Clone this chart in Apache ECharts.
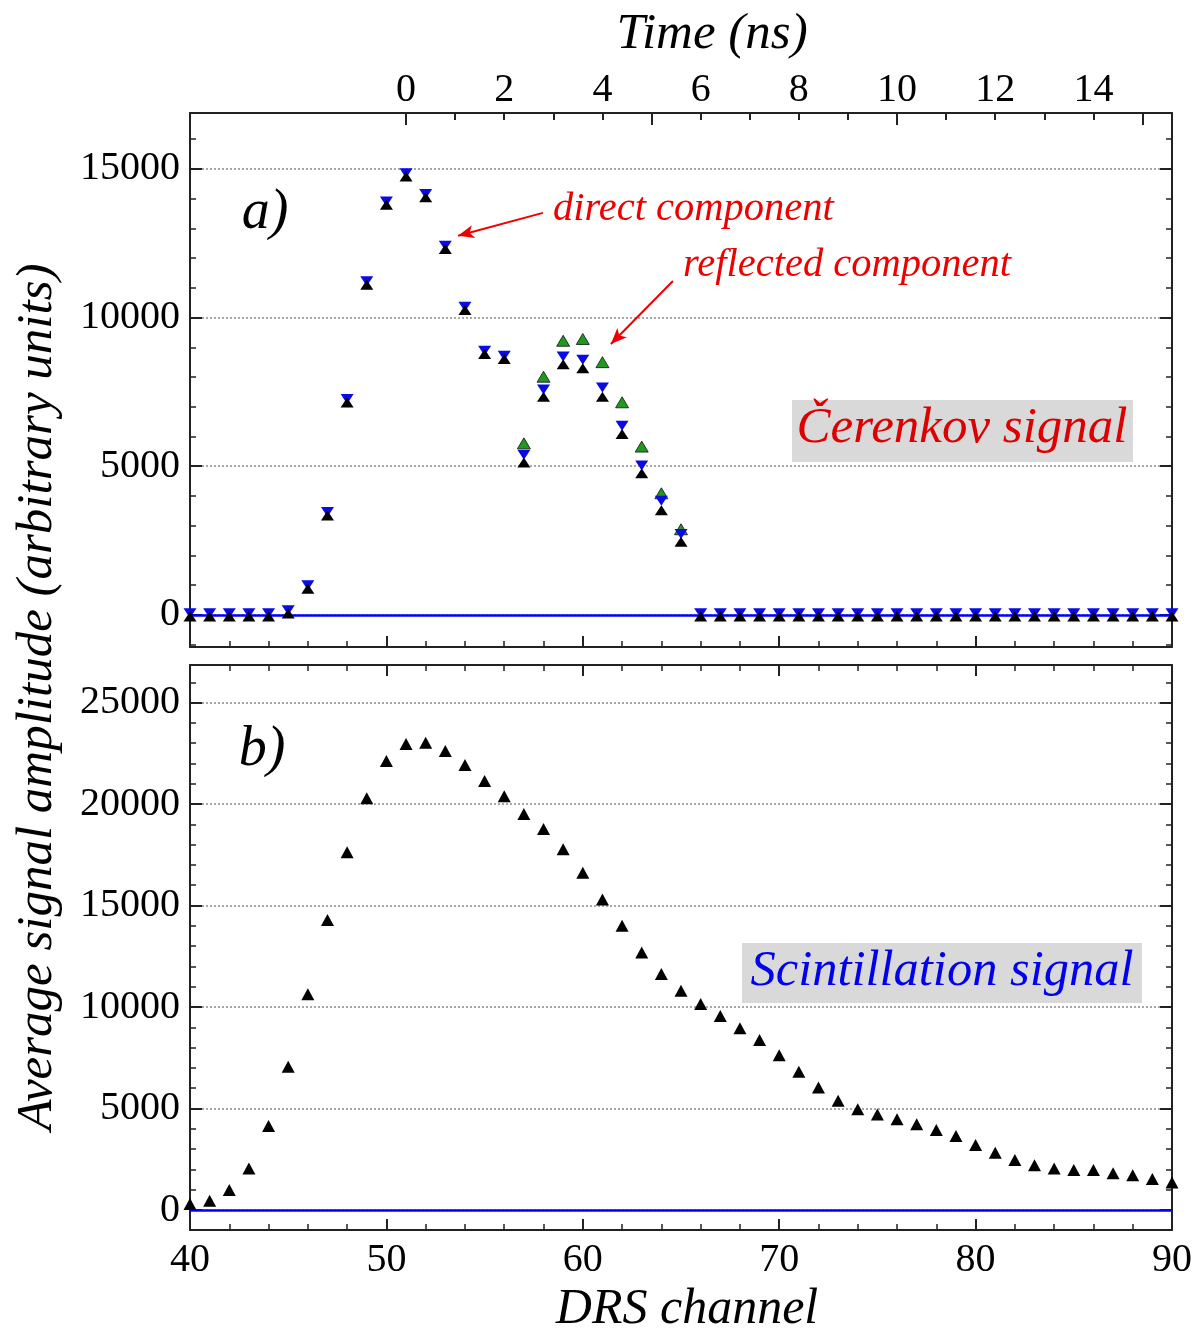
<!DOCTYPE html>
<html>
<head>
<meta charset="utf-8">
<title>Čerenkov and scintillation signals</title>
<script src="https://cdn.jsdelivr.net/npm/echarts@6/dist/echarts.min.js"></script>
<style>
  html, body { margin: 0; padding: 0; background: #fff; }
  #chart { width: 1193px; height: 1334px; }
</style>
</head>
<body>
<div id="chart"></div>
<script>
// DRS channels sampled in both panels
const channels = [40, 41, 42, 43, 44, 45, 46, 47, 48, 49, 50, 51, 52, 53, 54, 55, 56, 57, 58, 59,
                  60, 61, 62, 63, 64, 65, 66, 67, 68, 69, 70, 71, 72, 73, 74, 75, 76, 77, 78, 79,
                  80, 81, 82, 83, 84, 85, 86, 87, 88, 89, 90];

// a) Čerenkov signal: black up-triangles
const cerenkovBlack = [0, 0, 0, 0, 0, 100, 940, 3400, 7200, 11160, 13850, 14800, 14100, 12360, 10310, 8830, 8660,
                       5180, 7390, 8490, 8350, 7390, 6140, 4820, 3580, 2520,
                       0, 0, 0, 0, 0, 0, 0, 0, 0, 0, 0, 0, 0, 0, 0, 0, 0, 0, 0, 0, 0, 0, 0, 0, 0];
// a) Čerenkov signal: blue down-triangles
const cerenkovBlue = [0, 0, 0, 0, 0, 100, 940, 3400, 7200, 11160, 13850, 14800, 14100, 12360, 10310, 8830, 8660,
                      5330, 7520, 8630, 8520, 7590, 6300, 4970, 3780, 2660,
                      0, 0, 0, 0, 0, 0, 0, 0, 0, 0, 0, 0, 0, 0, 0, 0, 0, 0, 0, 0, 0, 0, 0, 0, 0];
// a) green points in the reflected-component region
const greenChannels = [57, 58, 59, 60, 61, 62, 63, 64, 65];
const cerenkovGreen = [5770, 8010, 9220, 9280, 8500, 7150, 5660, 4090, 2880];

// b) Scintillation signal
const scintillation = [300, 460, 990, 2050, 4140, 7060, 10630, 14290, 17620, 20280, 22120, 22960, 23020, 22610,
                       21920, 21130, 20390, 19510, 18770, 17770, 16620, 15300, 14000, 12690, 11630, 10800,
                       10150, 9560, 8950, 8370, 7620, 6810, 6040, 5380, 4960, 4710, 4470, 4220, 3940, 3650,
                       3200, 2820, 2460, 2200, 2040, 1970, 1970, 1810, 1710, 1530, 1360];

// Tick values
const cerenkovLabels = [0, 5000, 10000, 15000];
const cerenkovMinor = [-1000, 0, 1000, 2000, 3000, 4000, 5000, 6000, 7000, 8000, 9000, 10000,
                       11000, 12000, 13000, 14000, 15000, 16000];
const scintLabels = [0, 5000, 10000, 15000, 20000, 25000];
const scintMinor = [0, 1000, 2000, 3000, 4000, 5000, 6000, 7000, 8000, 9000, 10000, 11000, 12000, 13000,
                    14000, 15000, 16000, 17000, 18000, 19000, 20000, 21000, 22000, 23000, 24000, 25000, 26000];
const timeLabels = [0, 2, 4, 6, 8, 10, 12, 14];
const timeMajor = [0, 5, 10, 15];
const timeMinor = [0, 1, 2, 3, 4, 5, 6, 7, 8, 9, 10, 11, 12, 13, 14, 15];

// Arrow annotations in data coordinates [channel, amplitude]
const directArrow = [[57.97, 13520], [53.65, 12750]];
const reflectedArrow = [[64.59, 11230], [61.43, 9110]];

const SERIF = 'Liberation Serif';
const AXIS_COLOR = '#222';
const GRID_LINE = { show: true, lineStyle: { color: '#8a8a8a', type: [2, 2], width: 1.5 } };
const plain = v => String(v);

const pairs = (xs, ys) => xs.map((x, i) => [x, ys[i]]);

const chart = echarts.init(document.getElementById('chart'), null, { renderer: 'canvas' });

function channelAxis(gridIndex, position, withLabels) {
  return {
    type: 'value', gridIndex, position, min: 40, max: 90, interval: 10,
    axisLine: { show: true, onZero: false, lineStyle: { color: AXIS_COLOR, width: 2 } },
    axisTick: { show: true, inside: true, length: 11, lineStyle: { color: AXIS_COLOR, width: 2 } },
    minorTick: { show: true, splitNumber: 5, length: 6, lineStyle: { color: AXIS_COLOR, width: 1.5 } },
    axisLabel: withLabels
      ? { show: true, fontFamily: SERIF, fontSize: 40, color: '#000', margin: 10, formatter: plain }
      : { show: false },
    splitLine: { show: false }
  };
}

function ampAxis(gridIndex, position, min, max, labels, ticks, major) {
  const showLabels = major && position === 'left';
  return {
    type: 'value', gridIndex, position, min, max,
    axisLine: { show: major, onZero: false, lineStyle: { color: AXIS_COLOR, width: 2 } },
    axisTick: { show: true, inside: true, length: major ? 12 : 6, customValues: ticks,
                lineStyle: { color: AXIS_COLOR, width: major ? 2 : 1.5 } },
    axisLabel: showLabels
      ? { show: true, customValues: labels, fontFamily: SERIF, fontSize: 40, color: '#000', margin: 10, formatter: plain }
      : { show: false },
    splitLine: showLabels ? GRID_LINE : { show: false }
  };
}

function timeAxis(ticks, major) {
  return {
    type: 'value', gridIndex: 0, position: 'top', min: -4.4, max: 15.6,
    axisLine: { show: major, onZero: false, lineStyle: { color: AXIS_COLOR, width: 2 } },
    axisTick: { show: true, inside: true, length: major ? 12 : 7, customValues: ticks,
                lineStyle: { color: AXIS_COLOR, width: 2 } },
    axisLabel: major
      ? { show: true, customValues: timeLabels, fontFamily: SERIF, fontSize: 40, color: '#000', margin: 3, formatter: plain }
      : { show: false },
    splitLine: { show: false }
  };
}

function label(text, x, y, size, color, align, extra) {
  return Object.assign({
    type: 'text', x, y,
    style: { text, fontFamily: SERIF, fontSize: size, fontStyle: 'italic', fill: color,
             align, verticalAlign: 'middle' }
  }, extra || {});
}

const downTriangle = 'path://M0,0L10,0L5,10Z';

const option = {
  backgroundColor: '#fff',
  animation: false,
  grid: [
    { left: 190, right: 21, top: 113, height: 534, outerBoundsMode: 'none' },
    { left: 190, right: 21, top: 665, height: 565, outerBoundsMode: 'none' }
  ],
  xAxis: [
    channelAxis(0, 'bottom', false),       // 0
    timeAxis(timeMajor, true),             // 1
    timeAxis(timeMinor, false),            // 2
    channelAxis(1, 'bottom', true),        // 3
    channelAxis(1, 'top', false)           // 4
  ],
  yAxis: [
    ampAxis(0, 'left', -1080, 16880, cerenkovLabels, cerenkovLabels, true),   // 0
    ampAxis(0, 'left', -1080, 16880, cerenkovLabels, cerenkovMinor, false),   // 1
    ampAxis(0, 'right', -1080, 16880, cerenkovLabels, cerenkovLabels, true),  // 2
    ampAxis(0, 'right', -1080, 16880, cerenkovLabels, cerenkovMinor, false),  // 3
    ampAxis(1, 'left', -985, 26850, scintLabels, scintLabels, true),          // 4
    ampAxis(1, 'left', -985, 26850, scintLabels, scintMinor, false),          // 5
    ampAxis(1, 'right', -985, 26850, scintLabels, scintLabels, true),         // 6
    ampAxis(1, 'right', -985, 26850, scintLabels, scintMinor, false)          // 7
  ],
  series: [
    {
      name: 'reflected', type: 'scatter', xAxisIndex: 0, yAxisIndex: 0, z: 3,
      data: pairs(greenChannels, cerenkovGreen),
      symbol: 'triangle', symbolSize: [13, 11],
      itemStyle: { color: '#1f9a1f', borderColor: '#111', borderWidth: 0.8, opacity: 1 },
      markLine: {
        silent: true, animation: false,
        symbol: ['none', 'arrow'], symbolSize: [10, 16],
        label: { show: false },
        lineStyle: { color: '#ee0000', width: 2, type: 'solid' },
        data: [
          [{ coord: directArrow[0] }, { coord: directArrow[1] }],
          [{ coord: reflectedArrow[0] }, { coord: reflectedArrow[1] }]
        ]
      }
    },
    {
      name: 'blue', type: 'scatter', xAxisIndex: 0, yAxisIndex: 0, z: 4,
      data: pairs(channels, cerenkovBlue),
      symbol: downTriangle, symbolSize: [13, 10], symbolOffset: [0, -1.7],
      itemStyle: { color: '#0a0ae6', opacity: 1 },
      markLine: {
        silent: true, animation: false, symbol: ['none', 'none'],
        label: { show: false },
        lineStyle: { color: '#0000ff', width: 2.5, type: 'solid' },
        data: [{ yAxis: 0 }]
      }
    },
    {
      name: 'black', type: 'scatter', xAxisIndex: 0, yAxisIndex: 0, z: 5,
      data: pairs(channels, cerenkovBlack),
      symbol: 'triangle', symbolSize: [13, 10], symbolOffset: [0, 1.7],
      itemStyle: { color: '#000', opacity: 1 }
    },
    {
      name: 'scintillation', type: 'scatter', xAxisIndex: 3, yAxisIndex: 4, z: 5,
      data: pairs(channels, scintillation),
      symbol: 'triangle', symbolSize: [13, 12],
      itemStyle: { color: '#000', opacity: 1 },
      markLine: {
        silent: true, animation: false, symbol: ['none', 'none'],
        label: { show: false },
        lineStyle: { color: '#0000ff', width: 2.5, type: 'solid' },
        data: [{ yAxis: 0 }]
      }
    }
  ],
  graphic: [
    label('Time (ns)', 712, 35, 51, '#000', 'center'),
    label('DRS channel', 687, 1310, 50, '#000', 'center'),
    label('Average signal amplitude (arbitrary units)', 38, 697, 51, '#000', 'center', { rotation: Math.PI / 2 }),
    label('a)', 265, 213, 56, '#000', 'center'),
    label('b)', 262, 750, 56, '#000', 'center'),
    label('direct component', 553, 209, 40.5, '#ee0000', 'left'),
    label('reflected component', 683, 265, 40.5, '#ee0000', 'left'),
    { type: 'rect', shape: { x: 792, y: 400, width: 341, height: 62 }, style: { fill: '#d9d9d9' } },
    label('Čerenkov signal', 962, 429, 51, '#dd0000', 'center'),
    { type: 'rect', shape: { x: 742, y: 943, width: 400, height: 60 }, style: { fill: '#d9d9d9' } },
    label('Scintillation signal', 942, 972, 50.5, '#0000ee', 'center')
  ]
};

chart.setOption(option);
</script>
</body>
</html>
